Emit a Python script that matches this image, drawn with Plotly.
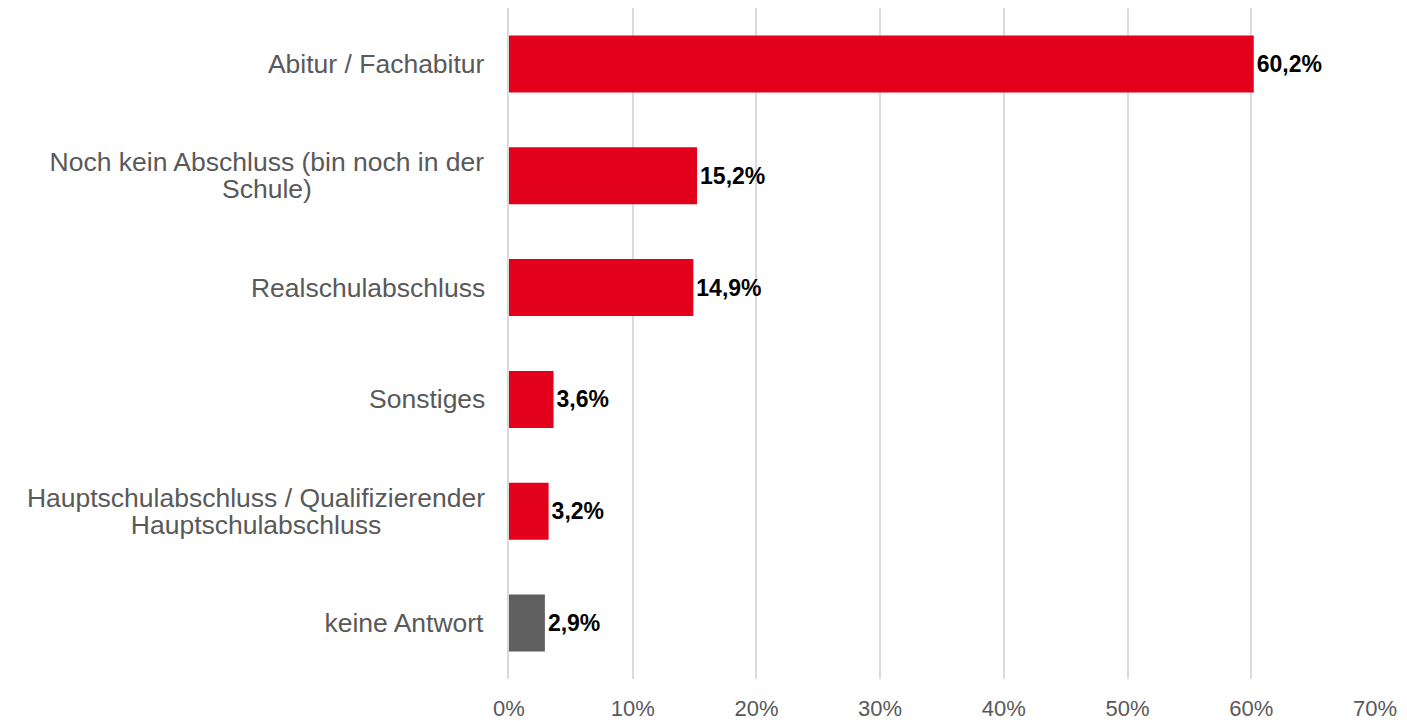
import plotly.graph_objects as go

categories = [
    "Abitur / Fachabitur",
    "Noch kein Abschluss (bin noch in der<br>Schule)",
    "Realschulabschluss",
    "Sonstiges",
    "Hauptschulabschluss / Qualifizierender<br>Hauptschulabschluss",
    "keine Antwort",
]
values = [60.2, 15.2, 14.9, 3.6, 3.2, 2.9]
bar_colors = ["#E2001A", "#E2001A", "#E2001A", "#E2001A", "#E2001A", "#5F5F5F"]
x_ticks = [0, 10, 20, 30, 40, 50, 60, 70]
x_tick_labels = ["0%", "10%", "20%", "30%", "40%", "50%", "60%", "70%"]

FONT = "Liberation Sans"
CAT_SIZE = 26.5
LINE_H = 27
LABEL_GAP = 23

# Arial / Liberation Sans advance widths (em) for measuring line widths
_W = {
    " ": .278, "/": .278, "(": .333, ")": .333,
    "A": .667, "F": .611, "H": .722, "N": .722, "Q": .778, "R": .722, "S": .667,
    "a": .556, "b": .556, "c": .5, "d": .556, "e": .556, "f": .278, "g": .556,
    "h": .556, "i": .222, "k": .5, "l": .222, "n": .556, "o": .556, "p": .556,
    "r": .333, "s": .5, "t": .278, "u": .556, "w": .722, "z": .5,
}


def text_width(s, size):
    return sum(_W.get(ch, .556) for ch in s) * size


fig = go.Figure()
fig.add_trace(go.Bar(
    x=values,
    y=categories,
    orientation="h",
    marker=dict(color=bar_colors, line=dict(width=0)),
    texttemplate="%{x:.1f}%",
    textposition="outside",
    textfont=dict(family=FONT, size=23, color="#000000", weight="bold"),
    cliponaxis=False,
    hoverinfo="skip",
))

for cat in categories:
    lines = cat.split("<br>")
    n = len(lines)
    box_w = max(text_width(l, CAT_SIZE) for l in lines) + 6
    for i, line in enumerate(lines):
        fig.add_annotation(
            x=0, y=cat, xref="x", yref="y",
            text=line, showarrow=False,
            xanchor="right", align="center",
            width=box_w, borderpad=0,
            xshift=-LABEL_GAP + 3,
            yshift=((n - 1) / 2 - i) * LINE_H,
            font=dict(family=FONT, size=CAT_SIZE, color="#595959"),
        )

fig.update_layout(
    width=1391, height=713,
    margin=dict(l=501, r=24, t=0, b=42, autoexpand=False),
    paper_bgcolor="white", plot_bgcolor="white",
    separators=",.",
    bargap=0.49,
    showlegend=False,
    font=dict(family=FONT, color="#595959"),
)
fig.update_xaxes(
    range=[0, 70], tickmode="array", tickvals=x_ticks, ticktext=x_tick_labels,
    showgrid=True, gridcolor="#D9DAE6", gridwidth=2,
    zeroline=False, showline=False, automargin=False,
    tickfont=dict(family=FONT, size=22, color="#595959"),
    ticklabelstandoff=14,
)
fig.update_yaxes(
    autorange="reversed", showticklabels=False,
    showgrid=False, zeroline=False, automargin=False,
    showline=True, linecolor="#D9D9D9", linewidth=2,
)

fig.write_html("out.html")
